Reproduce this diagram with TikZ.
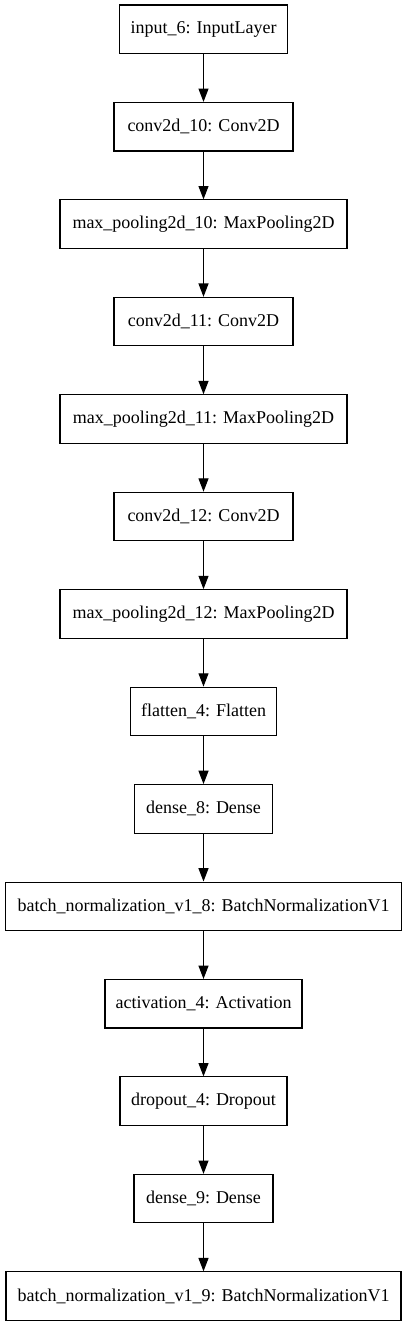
\documentclass[tikz,border=0pt]{standalone}
\usepackage{fontspec}
\setmainfont{Liberation Serif}
\usetikzlibrary{arrows.meta}
\tikzset{
  layer/.style={draw, line width=0.8pt, minimum height=36.4pt, inner xsep=6pt, inner ysep=0pt,
    font=\fontsize{13.5}{16}\selectfont},
  conn/.style={line width=0.8pt, -{Triangle[length=10pt,width=7.5pt]}}
}
\begin{document}
\begin{tikzpicture}[x=0.75pt,y=-0.75pt]
\useasboundingbox (0,0) rectangle (407,1325);
\node[layer, minimum width=126pt]    (n1)  at (203.5,29.25)  {input\_6: InputLayer};
\node[layer, minimum width=134.25pt] (n2)  at (203.5,126.7)  {conv2d\_10: Conv2D};
\node[layer, minimum width=215.25pt] (n3)  at (203.5,224.15) {max\_pooling2d\_10: MaxPooling2D};
\node[layer, minimum width=134.25pt] (n4)  at (203.5,321.6)  {conv2d\_11: Conv2D};
\node[layer, minimum width=215.25pt] (n5)  at (203.5,419.05) {max\_pooling2d\_11: MaxPooling2D};
\node[layer, minimum width=134.25pt] (n6)  at (203.5,516.5)  {conv2d\_12: Conv2D};
\node[layer, minimum width=215.25pt] (n7)  at (203.5,613.95) {max\_pooling2d\_12: MaxPooling2D};
\node[layer, minimum width=109.5pt]  (n8)  at (203.5,711.4)  {flatten\_4: Flatten};
\node[layer, minimum width=103.5pt]  (n9)  at (203.5,808.85) {dense\_8: Dense};
\node[layer, minimum width=297pt]    (n10) at (203.5,906.3)  {batch\_normalization\_v1\_8: BatchNormalizationV1};
\node[layer, minimum width=147.75pt] (n11) at (203.5,1003.75) {activation\_4: Activation};
\node[layer, minimum width=125.25pt] (n12) at (203.5,1101.2) {dropout\_4: Dropout};
\node[layer, minimum width=104.25pt] (n13) at (203.5,1198.65) {dense\_9: Dense};
\node[layer, minimum width=296.25pt] (n14) at (203.5,1296.1) {batch\_normalization\_v1\_9: BatchNormalizationV1};
\foreach \a/\b in {n1/n2,n2/n3,n3/n4,n4/n5,n5/n6,n6/n7,n7/n8,n8/n9,n9/n10,n10/n11,n11/n12,n12/n13,n13/n14}
  \draw[conn] (\a.south) -- (\b.north);
\end{tikzpicture}
\end{document}
